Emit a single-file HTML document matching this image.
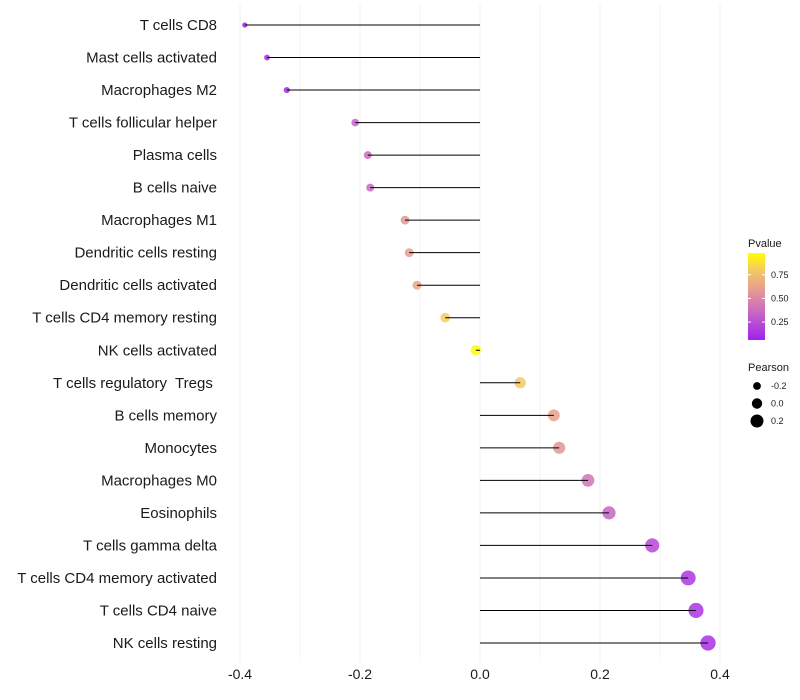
<!DOCTYPE html>
<html><head><meta charset="utf-8"><style>
body{margin:0;background:#fff;}
svg{display:block;font-family:"Liberation Sans",sans-serif;}
text{white-space:pre;}
</style></head><body>
<svg id="chart" width="800" height="700"></svg>
<script>
const categories=["T cells CD8","Mast cells activated","Macrophages M2","T cells follicular helper","Plasma cells","B cells naive","Macrophages M1","Dendritic cells resting","Dendritic cells activated","T cells CD4 memory resting","NK cells activated","T cells regulatory  Tregs ","B cells memory","Monocytes","Macrophages M0","Eosinophils","T cells gamma delta","T cells CD4 memory activated","T cells CD4 naive","NK cells resting"];
const pearson=[-0.392,-0.355,-0.322,-0.208,-0.187,-0.183,-0.125,-0.118,-0.105,-0.058,-0.007,0.067,0.123,0.132,0.180,0.215,0.287,0.347,0.360,0.380];
const pvalues=[0.02,0.03,0.05,0.30,0.33,0.33,0.55,0.58,0.62,0.82,0.99,0.80,0.60,0.55,0.38,0.30,0.18,0.10,0.08,0.07];
const xTicks=[-0.4,-0.2,0.0,0.2,0.4];
const xGrid=[-0.4,-0.3,-0.2,-0.1,0,0.1,0.2,0.3,0.4];
const colorTicks=[0.25,0.5,0.75];
const sizeTicks=[-0.2,0.0,0.2];

const NS="http://www.w3.org/2000/svg";
const svg=document.getElementById('chart');
function el(t,a,p){const e=document.createElementNS(NS,t);for(const k in a)e.setAttribute(k,a[k]);(p||svg).appendChild(e);return e;}
const x=v=>480+v*600;
const y=i=>25+i*(618/19);
function rad(v){return Math.max(1.5,5.2+6.5*v);}
const stops=[[0,[160,32,240]],[0.35,[205,110,190]],[0.6,[232,160,140]],[0.8,[245,200,100]],[1,[255,255,0]]];
function col(p){for(let i=1;i<stops.length;i++){if(p<=stops[i][0]){const a=stops[i-1],b=stops[i],t=(p-a[0])/(b[0]-a[0]);return 'rgb('+a[1].map((c,j)=>Math.round(c+(b[1][j]-c)*t)).join(',')+')';}}return 'rgb(255,255,0)';}

xGrid.forEach((v,k)=>{const g=el('line',{x1:x(v),x2:x(v),y1:5,y2:662,stroke:'#f0f0f0','stroke-width':k%2===0?1.1:0.6});

});
categories.forEach((c,i)=>{
const t=el('text',{x:217,y:y(i)+5,'text-anchor':'end','font-size':15,fill:'#1a1a1a'});t.textContent=c;


const pt=el('circle',{cx:x(pearson[i]),cy:y(i),r:rad(pearson[i]),fill:col(pvalues[i]),'fill-opacity':0.85});


const s=el('line',{x1:x(0),x2:x(pearson[i]),y1:y(i),y2:y(i),stroke:'#000','stroke-width':1});


});
xTicks.forEach(v=>{const t=el('text',{x:x(v),y:679,'text-anchor':'middle','font-size':14,fill:'#1a1a1a'});t.textContent=v.toFixed(1);

});

const defs=el('defs',{});const lg=el('linearGradient',{id:'pg',x1:0,y1:1,x2:0,y2:0},defs);
stops.forEach(s=>el('stop',{offset:s[0],'stop-color':'rgb('+s[1].join(',')+')'},lg));
const lt=el('text',{x:748,y:247,'font-size':11,fill:'#1a1a1a'});lt.textContent='Pvalue';


const cb=el('rect',{x:748,y:253,width:17,height:87,fill:'url(#pg)'});


const cy=p=>340-(p-0.06)/0.92*87;
colorTicks.forEach(p=>{el('line',{x1:748,x2:751,y1:cy(p),y2:cy(p),stroke:'#fff'});el('line',{x1:762,x2:765,y1:cy(p),y2:cy(p),stroke:'#fff'});
const t=el('text',{x:771,y:cy(p)+3,'font-size':9,fill:'#1a1a1a'});t.textContent=p.toFixed(2);

});
const st=el('text',{x:748,y:371,'font-size':11,fill:'#1a1a1a'});st.textContent='Pearson';


sizeTicks.forEach((v,i)=>{const yy=386+i*17.5;const c=el('circle',{cx:757,cy:yy,r:rad(v),fill:'#000'});


const t=el('text',{x:771,y:yy+3,'font-size':9,fill:'#1a1a1a'});t.textContent=v.toFixed(1);

});
</script>
</body></html>
